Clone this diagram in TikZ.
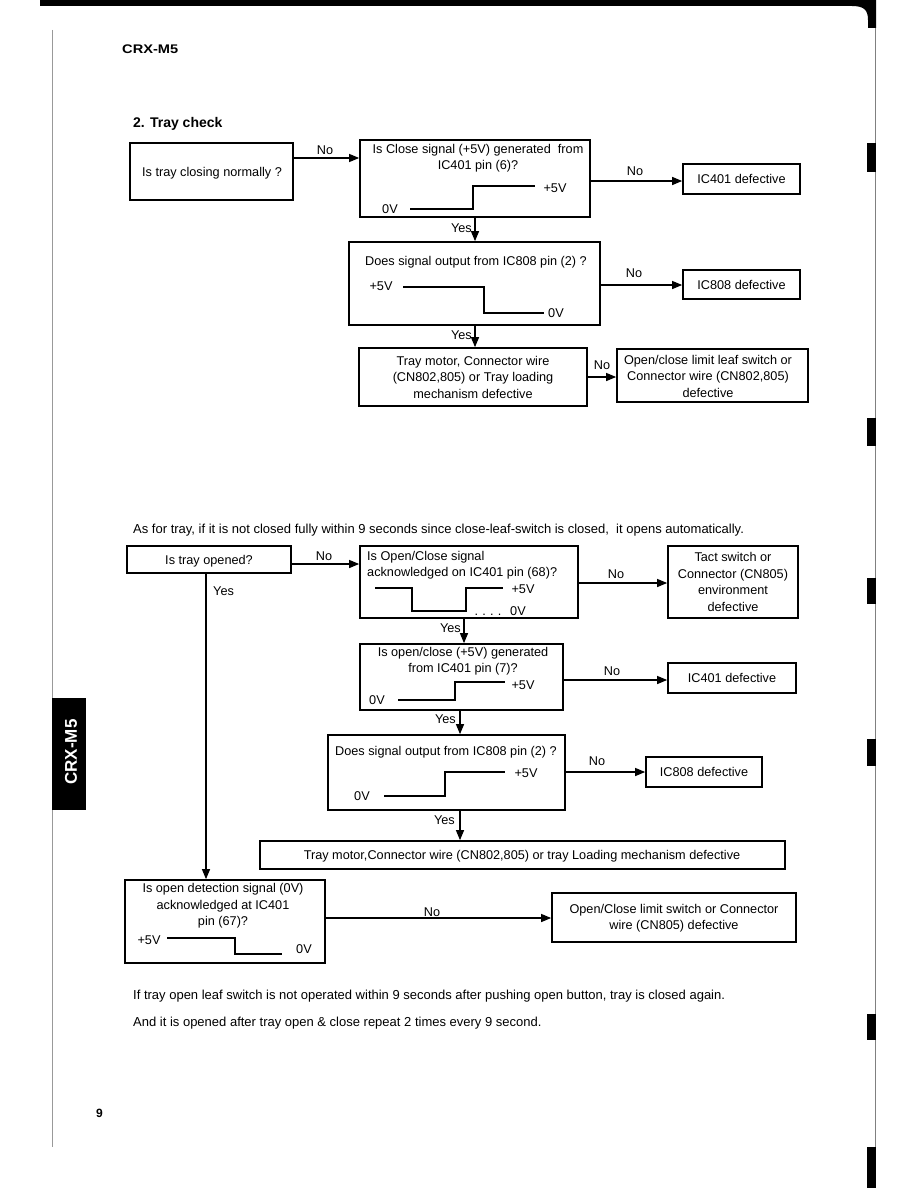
\documentclass[tikz,border=0pt]{standalone}
\usepackage{fontspec}
\setmainfont{Liberation Sans}
\usetikzlibrary{arrows.meta,fit}
\newcommand\boxfnt{\fontsize{12.7}{16.5}\selectfont}
\newcommand\parfnt{\fontsize{13}{16}\selectfont}
\begin{document}
\begin{tikzpicture}[x=1pt,y=-1pt,
  box/.style={draw, line width=1.7pt, inner sep=0pt},
  txt/.style={font=\boxfnt, inner sep=0pt, text height=9.1pt, text depth=0pt},
  mtxt/.style={font=\boxfnt, inner sep=0pt, align=center},
  arr/.style={line width=1.2pt, -{Triangle[length=10pt,width=8pt]}},
  wave/.style={line width=1.2pt},
  para/.style={font=\parfnt, inner sep=0pt, anchor=west, text height=9.3pt, text depth=0pt},
]
\useasboundingbox (0,0) rectangle (918,1188);
% page furniture
\fill (40,0) -- (876,0) -- (876,28) -- (868,28) -- (868,20) .. controls (868,10) and (864,6) .. (852,6) -- (40,6) -- cycle;
\draw[gray, line width=0.8pt] (875,28) -- (875,1188);
\foreach \a/\b in {143/172,418/446,578/604,739/766,1014/1040,1147/1188}
  \fill (867,\a) rectangle (876,\b);
\draw[gray!80, line width=1pt] (52,30) -- (52,1147);
\node[fill=black, inner sep=0pt, fit={(52,698) (86,810)}] (tab) {};
\node[rotate=90, text=white, inner sep=0pt, font=\fontsize{17}{17}\bfseries\selectfont] (tabtxt) at (71,752) {CRX-M5};
\node[anchor=west, inner sep=0pt, text height=8.6pt, text depth=0pt] (hdr) at (122,49) {\scalebox{1.17}[1]{\fontsize{12.5}{12.5}\bfseries\selectfont CRX-M5}};
\node[anchor=west, inner sep=0pt, text height=10pt, text depth=0pt, font=\fontsize{14}{14}\bfseries\selectfont] (title) at (133,123) {2. Tray check};
\node[anchor=west, inner sep=0pt, text height=8.6pt, text depth=0pt, font=\fontsize{12}{12}\bfseries\selectfont] (pg) at (96,1113) {9};

% ---------- top chart ----------
\node[box, fit={(130,143) (293,200)}] (a) {};
\node[txt] (at) at (212,172) {Is tray closing normally ?};
\node[box, fit={(360,140) (590,217)}] (b) {};
\node[mtxt] (bt) at (478,158) {Is Close signal (+5V) generated\ \ from\\IC401 pin (6)?};
\node[txt] (b0) at (390,209) {0V};
\node[txt] (b5) at (555,188) {+5V};
\draw[wave] (410,209) -- (473,209) -- (473,186) -- (535,186);
\node[box, fit={(683,164) (800,194)}] (c) {};
\node[txt] (ct) at (741.5,179) {IC401 defective};
\node[box, fit={(349,242) (600,325)}] (d) {};
\node[txt] (dt) at (476,261) {Does signal output from IC808 pin (2) ?};
\node[txt] (d5) at (381,286) {+5V};
\node[txt] (d0) at (556,313) {0V};
\draw[wave] (403,287) -- (484,287) -- (484,313) -- (544,313);
\node[box, fit={(683,270) (800,299)}] (e) {};
\node[txt] (et) at (741.5,284.5) {IC808 defective};
\node[box, fit={(359,348) (587,406)}] (f) {};
\node[mtxt] (ft) at (473,377) {Tray motor, Connector wire\\(CN802,805) or Tray loading\\mechanism defective};
\node[box, fit={(617,349) (808,402)}] (g) {};
\node[mtxt] (gt) at (708,376) {Open/close limit leaf switch or\\Connector wire (CN802,805)\\defective};

\draw[arr] (a.east |- 0,158) -- (b.west |- 0,158);
\node[txt] (n1) at (325,150) {No};
\draw[arr] (b.east |- 0,181) -- (c.west |- 0,181);
\node[txt] (n2) at (635,171) {No};
\draw[arr] (b.south -| 475,0) -- (d.north -| 475,0);
\node[txt, anchor=east] (y1) at (472,228) {Yes};
\draw[arr] (d.east |- 0,285) -- (e.west |- 0,285);
\node[txt] (n3) at (634,273) {No};
\draw[arr] (d.south -| 475,0) -- (f.north -| 475,0);
\node[txt, anchor=east] (y2) at (472,335) {Yes};
\draw[arr] (f.east |- 0,377) -- (g.west |- 0,377);
\node[txt] (n4) at (602,365) {No};

% ---------- middle text ----------
\node[para] (p1) at (133,529) {As for tray, if it is not closed fully within 9 seconds since close-leaf-switch is closed,\ \ it opens automatically.};

% ---------- bottom chart ----------
\node[box, fit={(127,546) (291,573)}] (h) {};
\node[txt] (ht) at (209,559.5) {Is tray opened?};
\node[box, fit={(360,546) (578,618)}] (i) {};
\node[font=\boxfnt, inner sep=0pt, align=left, anchor=north west] (it) at (367,551) {Is Open/Close signal\\acknowledged on IC401 pin (68)?};
\draw[wave] (375,588) -- (412,588) -- (412,611) -- (466,611) -- (466,588) -- (503,588);
\node[txt] (i5) at (523,589) {+5V};
\node[txt] (id) at (488,611) {.\,\,.\,\,.\,\,.};
\node[txt] (i0) at (518,611) {0V};
\node[box, fit={(668,546) (798,618)}] (j) {};
\node[mtxt] (jt) at (733,582) {Tact switch or\\Connector (CN805)\\environment\\defective};
\node[box, fit={(360,644) (563,710)}] (k) {};
\node[mtxt] (kt) at (463,661) {Is open/close (+5V) generated\\from IC401 pin (7)?};
\node[txt] (k0) at (377,700) {0V};
\draw[wave] (398,700) -- (455,700) -- (455,682) -- (505,682);
\node[txt] (k5) at (523,685) {+5V};
\node[box, fit={(668,663) (796,693)}] (l) {};
\node[txt] (lt) at (732,678) {IC401 defective};
\node[box, fit={(328,735) (565,810)}] (m) {};
\node[txt] (mt) at (446,751) {Does signal output from IC808 pin (2) ?};
\node[txt] (m0) at (362,796) {0V};
\draw[wave] (384,796) -- (445,796) -- (445,772) -- (505,772);
\node[txt] (m5) at (526,773) {+5V};
\node[box, fit={(646,757) (762,787)}] (nn) {};
\node[txt] (nt) at (704,772) {IC808 defective};
\node[box, fit={(260,841) (785,869)}] (o) {};
\node[txt] (ot) at (522,855) {Tray motor,Connector wire (CN802,805) or tray Loading mechanism defective};
\node[box, fit={(125,880) (325,963)}] (p) {};
\node[mtxt] (pt) at (223,906) {Is open detection signal (0V)\\acknowledged at IC401\\pin (67)?};
\node[txt] (p5) at (149,940) {+5V};
\draw[wave] (167,938) -- (235,938) -- (235,954) -- (282,954);
\node[txt] (p0) at (304,949) {0V};
\node[box, fit={(552,893) (796,942)}] (q) {};
\node[mtxt] (qt) at (674,918) {Open/Close limit switch or Connector\\wire (CN805) defective};

\draw[arr] (h.east |- 0,564) -- (i.west |- 0,564);
\node[txt] (n5) at (324,556) {No};
\draw[arr] (i.east |- 0,583) -- (j.west |- 0,583);
\node[txt] (n6) at (616,574) {No};
\draw[arr] (i.south -| 464,0) -- (k.north -| 464,0);
\node[txt, anchor=east] (y3) at (461,628) {Yes};
\draw[arr] (k.east |- 0,680) -- (l.west |- 0,680);
\node[txt] (n7) at (612,671) {No};
\draw[arr] (k.south -| 460,0) -- (m.north -| 460,0);
\node[txt, anchor=east] (y4) at (456,719) {Yes};
\draw[arr] (m.east |- 0,772) -- (nn.west |- 0,772);
\node[txt] (n8) at (597,761) {No};
\draw[arr] (m.south -| 460,0) -- (o.north -| 460,0);
\node[txt, anchor=east] (y5) at (455,820) {Yes};
\draw[arr] (h.south -| 206,0) -- (p.north -| 206,0);
\node[txt, anchor=west] (y6) at (213,591) {Yes};
\draw[arr] (p.east |- 0,918) -- (q.west |- 0,918);
\node[txt] (n9) at (432,912) {No};

% ---------- bottom text ----------
\node[para] (p2) at (133,995) {If tray open leaf switch is not operated within 9 seconds after pushing open button, tray is closed again.};
\node[para] (p3) at (133,1022) {And it is opened after tray open \& close repeat 2 times every 9 second.};
\end{tikzpicture}
\end{document}
